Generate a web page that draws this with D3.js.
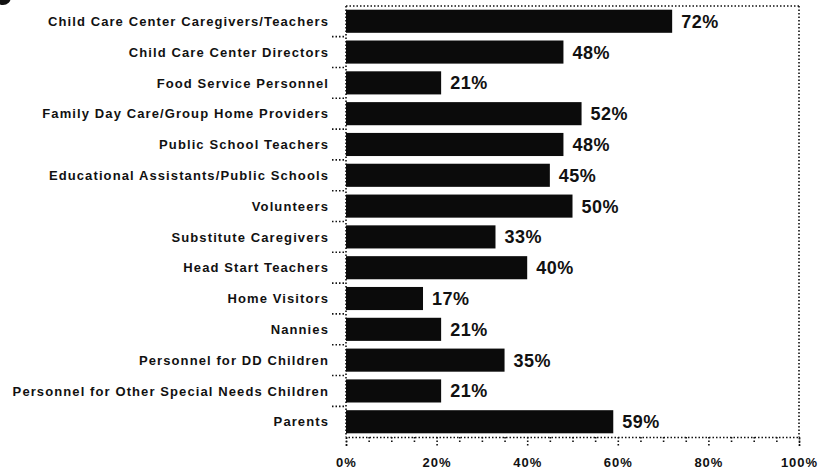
<!DOCTYPE html>
<html>
<head>
<meta charset="utf-8">
<script src="https://cdn.jsdelivr.net/npm/d3@7"></script>
<style>
  body { margin: 0; background: #fff; }
  svg { display: block; font-family: "Liberation Sans", Arial, sans-serif; }
  .cat { font-size: 13px; font-weight: bold; fill: #111; letter-spacing: 1.1px; }
  .pct { font-size: 18px; font-weight: bold; fill: #111; letter-spacing: 0.5px; }
  .tick text { font-size: 13px; font-weight: bold; fill: #111; letter-spacing: 1px; }
  .dot { stroke: #111; stroke-width: 1.6; stroke-dasharray: 1.5,2; fill: none; }
</style>
</head>
<body>
<svg id="chart" width="822" height="471"></svg>
<script>
// Data
var categories = [
  "Child Care Center Caregivers/Teachers",
  "Child Care Center Directors",
  "Food Service Personnel",
  "Family Day Care/Group Home Providers",
  "Public School Teachers",
  "Educational Assistants/Public Schools",
  "Volunteers",
  "Substitute Caregivers",
  "Head Start Teachers",
  "Home Visitors",
  "Nannies",
  "Personnel for DD Children",
  "Personnel for Other Special Needs Children",
  "Parents"
];
var percents = [72, 48, 21, 52, 48, 45, 50, 33, 40, 17, 21, 35, 21, 59];
var majorTicks = [0, 20, 40, 60, 80, 100];
var minorTicks = d3.range(0, 101, 5);

var svg = d3.select("#chart");

var x = d3.scaleLinear().domain([0, 100]).range([346, 799]);
var y = d3.scaleBand().domain(categories).range([6, 437]).paddingInner(0.25).paddingOuter(0.12);

// scan blob in the corner
svg.append("circle").attr("cx", 3).attr("cy", -3).attr("r", 8).attr("fill", "#111");

// frame: top and right dotted lines
svg.append("line").attr("class", "dot")
  .attr("x1", x(0)).attr("x2", x(100)).attr("y1", 6).attr("y2", 6);
svg.append("line").attr("class", "dot")
  .attr("x1", x(100)).attr("x2", x(100)).attr("y1", 6).attr("y2", 437);
// left axis line
svg.append("line").attr("class", "dot")
  .attr("x1", x(0)).attr("x2", x(0)).attr("y1", 6).attr("y2", 437);

// left tick marks between bands
var step = y.step();
svg.selectAll(".ltick").data(categories.slice(1))
  .enter().append("line").attr("class", "dot ltick")
  .attr("x1", x(0) - 14).attr("x2", x(0))
  .attr("y1", function(d) { return y(d) - step * 0.125; })
  .attr("y2", function(d) { return y(d) - step * 0.125; });

// bottom axis
var xAxis = d3.axisBottom(x).tickValues(majorTicks)
  .tickFormat(function(d) { return d + "%"; })
  .tickSize(9).tickPadding(12);
var gx = svg.append("g").attr("transform", "translate(0,437)").call(xAxis);
gx.select(".domain").attr("class", "dot");
gx.selectAll(".tick line").attr("class", "dot");

var minorAxis = d3.axisBottom(x).tickValues(minorTicks.filter(function(d) { return d % 20; }))
  .tickSize(5).tickFormat("");
var gm = svg.append("g").attr("transform", "translate(0,437)").call(minorAxis);
gm.select(".domain").remove();
gm.selectAll(".tick line").attr("class", "dot");

// bars
svg.selectAll(".bar").data(percents)
  .enter().append("rect").attr("class", "bar")
  .attr("x", x(0))
  .attr("y", function(d, i) { return y(categories[i]); })
  .attr("width", function(d) { return x(d) - x(0); })
  .attr("height", y.bandwidth())
  .attr("fill", "#0b0b0b");

// percent labels
svg.selectAll(".pct").data(percents)
  .enter().append("text").attr("class", "pct")
  .attr("x", function(d) { return x(d) + 9; })
  .attr("y", function(d, i) { return y(categories[i]) + y.bandwidth() / 2; })
  .attr("dy", "0.36em")
  .text(function(d) { return d + "%"; });

// category labels
svg.selectAll(".cat").data(categories)
  .enter().append("text").attr("class", "cat")
  .attr("x", 329)
  .attr("y", function(d) { return y(d) + y.bandwidth() / 2; })
  .attr("dy", "0.36em")
  .attr("text-anchor", "end")
  .text(function(d) { return d; });
</script>
</body>
</html>
